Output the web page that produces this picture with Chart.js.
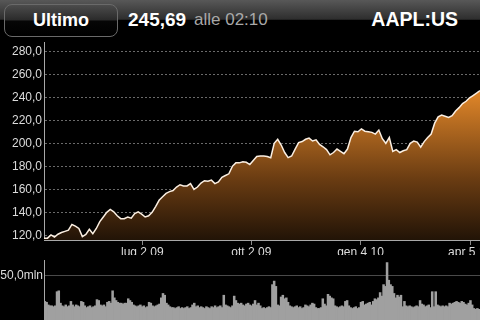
<!DOCTYPE html>
<html><head><meta charset="utf-8">
<script src="https://cdn.jsdelivr.net/npm/chart.js@4.4.1/dist/chart.umd.min.js"></script>
<style>
html,body{margin:0;padding:0;background:#000;width:480px;height:320px;overflow:hidden;font-family:"Liberation Sans",Arial,Helvetica,sans-serif;}
#hdr{position:absolute;left:0;top:0;width:480px;height:40px;background:linear-gradient(to bottom,#585858 0%,#2e2e2e 48%,#000 51%,#000 100%);}
#btn{position:absolute;left:4px;top:4px;width:112px;height:31px;border:1px solid #6a6a6a;border-radius:8px;background:linear-gradient(to bottom,#4c4c4c 0%,#2a2a2a 49%,#060606 51%,#000 100%);color:#fff;font-weight:bold;font-size:18px;text-align:center;line-height:31px;}
.t{position:absolute;white-space:nowrap;line-height:1;}
#price{left:128px;top:10px;font-size:19px;font-weight:bold;color:#fff;}
#time{left:194px;top:11px;font-size:17px;color:#a8a8a8;}
#sym{right:22px;top:10px;font-size:19.5px;font-weight:bold;color:#fff;}
#c1{position:absolute;left:0;top:40px;}
#c2{position:absolute;left:0;top:255px;}
</style></head>
<body>
<div id="hdr"><div id="btn">Ultimo</div>
<span class="t" id="price">245,69</span><span class="t" id="time">alle 02:10</span><span class="t" id="sym">AAPL:US</span></div>
<canvas id="c1" width="480" height="215"></canvas>
<canvas id="c2" width="480" height="65"></canvas>
<script>
// Price sampled every 2 trading days (x = 2*i)
const priceValues = [
117.5,117.6,120.4,118.6,121,122.5,123.5,124.5,129.5,128,
126,119,120.8,125.3,121.5,126,132,136,140,142.5,
140.5,137,134.5,134.5,136,135,139,140.5,138.5,136,
137,140,145,150.5,153.5,156.5,158,159,162,164,
163,163,165,160,162,165.5,167.5,167,168,165,
166.5,170.5,172,173.5,180,183,183,184,183.5,181.5,
185,188.5,189,189,188.5,187.5,200,203.5,198.5,192,
187.6,189,195,200.6,201.5,203.5,204.5,202,203,199,
197,194.5,190,192,195,193,191,195,205,210.5,
210,212.5,210.5,210,209.5,208,211.5,204,200,205,
193,194.5,192,193.5,194.5,200,202,201,196.6,201.5,
205,208,217.5,223,224.5,223.5,222.5,224,228,231,
234.5,236.5,239.5,241.5,243.5,245.7];
// Daily volume in millions (x = i)
const volumeValues = [
21,20,17,16,16,15,16,32,33,19,
16,15,17,15,16,21,17,15,17,16,
15,21,20,16,14,15,16,14,15,16,
23,22,17,16,17,15,20,21,19,33,
25,22,20,19,19,18,19,19,24,22,
20,17,16,15,16,17,15,16,14,15,
20,19,16,15,16,17,18,25,30,28,
19,17,15,14,14,13,14,15,13,14,
13,14,15,13,14,17,19,15,16,14,
15,14,13,15,14,13,15,14,16,14,
15,16,14,28,17,16,15,14,16,27,
22,19,18,19,17,16,18,19,17,16,
18,22,17,19,16,
13,14,13,14,15,14,40,44,38,17,
16,26,28,24,25,20,16,15,14,15,
16,14,15,13,14,17,16,15,17,19,
18,14,13,13,14,24,18,16,29,27,
25,24,16,15,14,15,16,15,21,22,
16,14,13,14,15,13,14,20,21,17,
18,19,20,17,21,24,23,25,31,27,
40,38,65,45,40,38,30,25,28,26,
28,15,21,16,15,16,15,14,15,16,
15,22,18,17,15,16,17,14,32,15,
32,17,16,15,16,15,16,15,19,18,
19,20,21,20,19,21,20,18,17,19,
22,17,13,12,13,12];
const xTickPositions = [56.4,118.9,181.5,244.3];
const xTickLabels = ["lug 2 09","ott 2 09","gen 4 10","apr 5 10"];
const priceTicks = [120,140,160,180,200,220,240,260,280];
const volumeTicks = [50];

const FONT = '"Liberation Sans", Arial, Helvetica, sans-serif';
const fmt = v => v.toFixed(1).replace('.', ',');

let grad = null;
function fillGrad(ctx){
  const c = ctx.chart.ctx;
  if(!grad){
    grad = c.createLinearGradient(0, 40, 0, 220);
    grad.addColorStop(0, '#f0902c');
    grad.addColorStop(0.55, '#6a3c12');
    grad.addColorStop(1, '#0a0603');
  }
  return grad;
}

new Chart(document.getElementById('c1'), {
  type: 'line',
  data: { datasets: [{
    data: priceValues.map((v,i)=>({x:i*2,y:v})),
    borderColor: '#fbefe2', borderWidth: 1.5, pointRadius: 0, tension: 0,
    fill: 'start', backgroundColor: fillGrad
  }]},
  options: {
    responsive: false, animation: false, devicePixelRatio: 1,
    layout: { padding: { top: 2, left: 0, right: 0, bottom: 0 } },
    plugins: { legend: {display:false}, tooltip: {enabled:false} },
    scales: {
      x: {
        type: 'linear', min: 0, max: 250,
        afterBuildTicks: s => { s.ticks = xTickPositions.map(v=>({value:v})); },
        afterFit: s => { s.height = 15; s.paddingLeft = 0; s.paddingRight = 0; },
        ticks: { autoSkip:false, maxRotation:0, padding:0, color:'#dcdcdc', font:{family:FONT,size:12},
          callback: (v, i) => xTickLabels[i] },
        grid: { drawOnChartArea:false, drawTicks:true, tickLength:5, color:'#8a8a8a' },
        border: { color:'#a8a8a8', width:1 }
      },
      y: {
        min: 116, max: 288,
        afterBuildTicks: s => { s.ticks = priceTicks.map(v=>({value:v})); },
        afterFit: s => { s.width = 44; s.paddingTop = 0; s.paddingBottom = 0; },
        ticks: { padding:2, color:'#dcdcdc', font:{family:FONT,size:12}, callback: v => fmt(v) },
        grid: { drawTicks:false, color:'#6a6a6a', lineWidth:1 },
        border: { color:'#a8a8a8', width:1, dash:[2,2] }
      }
    }
  }
});

new Chart(document.getElementById('c2'), {
  type: 'bar',
  data: { datasets: [{
    data: volumeValues.map((v,i)=>({x:i,y:v})),
    backgroundColor: '#a0a0a0', borderWidth: 0, inflateAmount: 0.4,
    barPercentage: 1, categoryPercentage: 1
  }]},
  options: {
    responsive: false, animation: false, devicePixelRatio: 1,
    layout: { padding: { top: 5, left: 0, right: 0, bottom: 0 } },
    plugins: { legend: {display:false}, tooltip: {enabled:false} },
    scales: {
      x: { type:'linear', min:-0.5, max:250.5, offset:false, display:false },
      y: {
        min: 0, max: 68,
        afterBuildTicks: s => { s.ticks = volumeTicks.map(v=>({value:v})); },
        afterFit: s => { s.width = 44; s.paddingTop = 0; s.paddingBottom = 0; },
        ticks: { padding:1, color:'#dcdcdc', font:{family:FONT,size:12}, callback: v => fmt(v) + 'mln' },
        grid: { drawTicks:false, color:'#4a4a4a', lineWidth:1 },
        border: { color:'#a8a8a8', width:1 }
      }
    }
  }
});
</script>
</body></html>
